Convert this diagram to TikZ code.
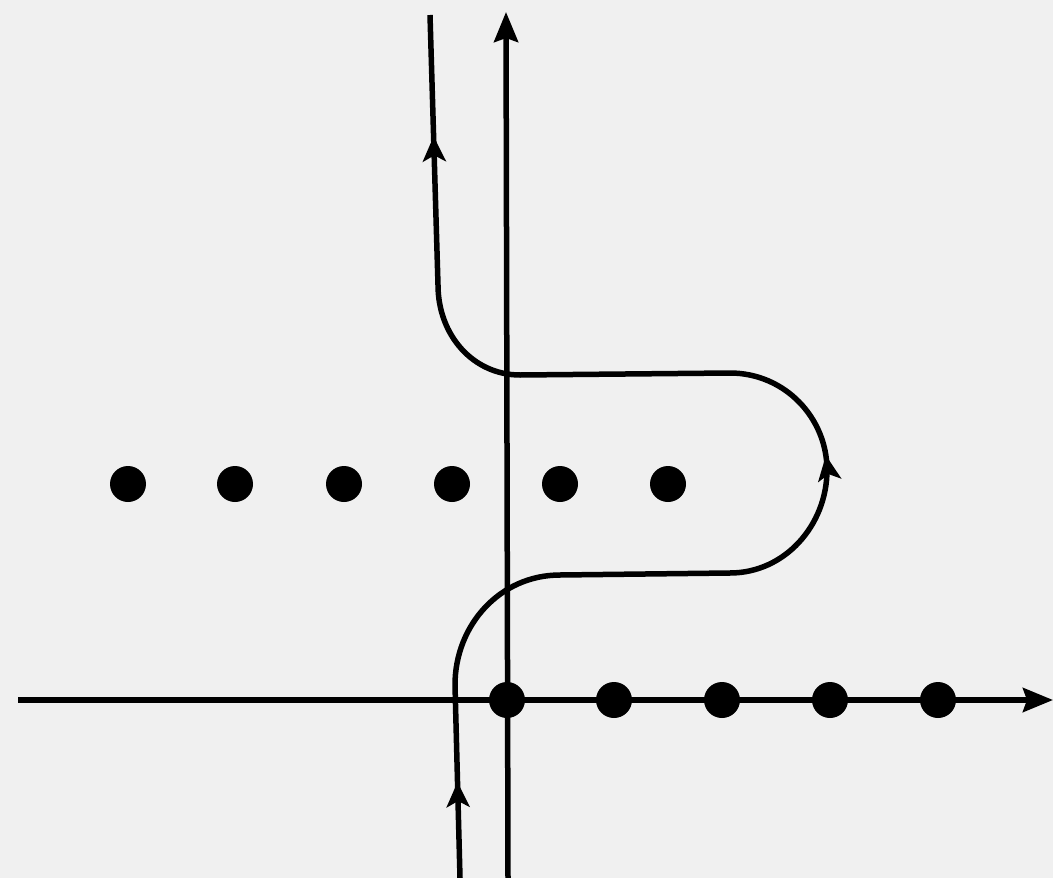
\documentclass[tikz,border=0pt]{standalone}
\usetikzlibrary{arrows.meta,decorations.markings}
\definecolor{paper}{RGB}{240,240,240}
\tikzset{
  axis/.style={line width=5.5pt, -{Stealth[length=30pt,width=24pt,inset=4pt]}},
  contour/.style={line width=5.5pt},
  midarrow/.style={postaction={decorate,decoration={markings,
    mark=at position #1 with {\arrow{Stealth[length=25pt,width=23pt,inset=6pt]}}}}},
  pole/.style={fill=black}
}

\begin{document}
\begin{tikzpicture}[x=1pt,y=-1pt]
\useasboundingbox (0,0) rectangle (1053,878);
\fill[paper] (0,0) rectangle (1053,878);
% axes
\draw[axis] (18,700) -- (1053,700);
\draw[axis] (508,878) -- (506,12);
% poles
\foreach \x in {507,614,722,830,938}
  \fill[pole] (\x,700) circle (18);
\foreach \x in {128,235,344,452,560,668}
  \fill[pole] (\x,484) circle (18);
% deformed contour
\draw[contour, midarrow=96pt, midarrow=704pt, midarrow=1336pt]
  (460,878) -- (455,685)
  .. controls (455,625) and (500,575) .. (560,575) -- (730,573)
  .. controls (785,573) and (827,525) .. (827,470)
  .. controls (827,418) and (785,373) .. (730,373) -- (520,375)
  .. controls (473,375) and (438,335) .. (438,285) -- (430,15);
\end{tikzpicture}
\end{document}
